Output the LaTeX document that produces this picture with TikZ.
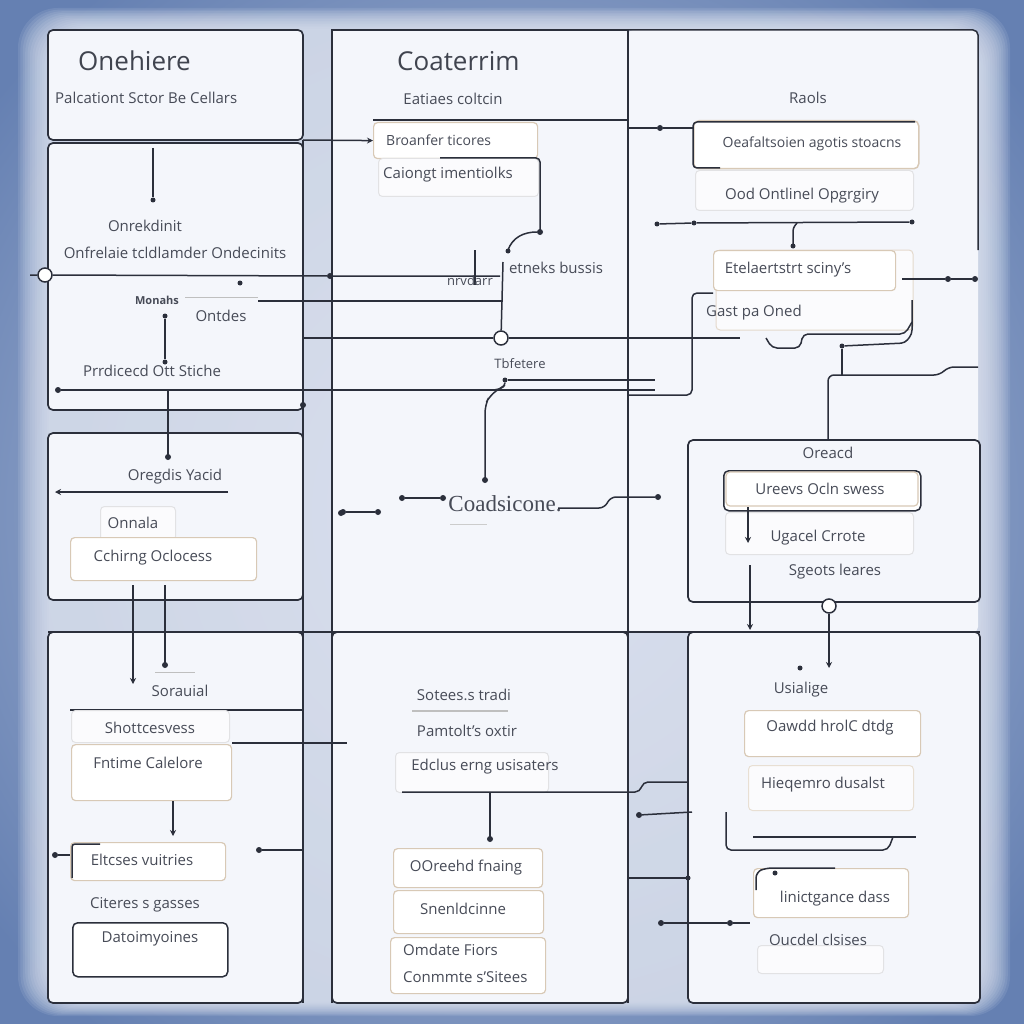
\documentclass[tikz,border=0pt]{standalone}
\usepackage{fontspec}
\setmainfont{Open Sans}
\newfontfamily\serifcc{Liberation Serif}
\usetikzlibrary{arrows.meta}
\definecolor{bgout}{HTML}{6580B2}
\definecolor{bgin}{HTML}{E4E9F4}
\definecolor{pfill}{HTML}{F4F6FB}
\definecolor{ln}{HTML}{2B2F3B}
\definecolor{tx}{HTML}{474B57}
\definecolor{bx}{HTML}{D8C9B6}
\definecolor{fbx}{HTML}{E2E2E4}
\tikzset{
  panel/.style={draw=ln, line width=1.7pt, fill=pfill, rounded corners=5pt},
  wire/.style={draw=ln, line width=1.5pt},
  thin/.style={draw=ln, line width=1.2pt},
  lbl/.style={font=\fontsize{15}{17}\selectfont, text=tx, inner sep=0pt},
  small/.style={font=\fontsize{13}{15}\selectfont, text=tx, inner sep=0pt},
  ttl/.style={font=\fontsize{26}{30}\selectfont, text=ln!90, inner sep=0pt},
  tbox/.style={draw=bx, line width=1.2pt, fill=white, rounded corners=4pt},
  fbox/.style={draw=fbx, line width=1pt, fill=white!60!pfill, rounded corners=4pt},
  dbox/.style={draw=ln, line width=1.5pt, fill=white, rounded corners=5pt},
  dotn/.style={circle, fill=ln, inner sep=0pt, minimum size=6pt},
  ocirc/.style={circle, draw=ln, fill=white, line width=1.5pt, minimum size=14pt, inner sep=0pt},
  arr/.style={-{Stealth[length=6pt,width=6pt]}},
  glow/.style={fill=bgin, opacity=0.11, rounded corners=40pt},
}
\begin{document}
\begin{tikzpicture}[x=1pt,y=-1pt]
\useasboundingbox (0,0) rectangle (1024,1024);
% background
\shade[inner color=bgin!75!bgout, outer color=bgout] (-150,-150) rectangle (1174,1174);
\foreach \i in {0,...,13} {
  \fill[glow] (18+2.4*\i,8+1.6*\i) rectangle (1010-2.2*\i,1016-1.1*\i);
}
% ---------- panels ----------
\fill[pfill] (332,30) rectangle (628,632);
\fill[pfill, rounded corners=5pt] (628,30) rectangle (978,632);
\draw[panel] (48,30) rectangle (303,140);
\draw[panel] (48,143) rectangle (303,410);
\draw[panel] (48,433) rectangle (303,600);
\draw[panel] (688,440) rectangle (980,602);
\draw[panel] (48,632) rectangle (303,1003);
\draw[panel] (332,632) rectangle (628,1003);
\draw[panel] (688,632) rectangle (980,1003);
% long lines
\draw[wire] (332,1003) -- (332,30) -- (628,30);
\draw[wire] (628,1003) -- (628,30);
\draw[wire, rounded corners=5pt] (628,30) -- (978,30) -- (978,250);
\draw[wire] (303,140) -- (303,1003);
\draw[wire] (48,632) -- (980,632);
% ---------- top-left ----------
\node[ttl, anchor=west] (t1) at (78,61) {Onehiere};
\node[lbl, anchor=west] (s1) at (55,98) {Palcationt Sctor Be Cellars};
\coordinate (a1) at (153,148);
\node[dotn, minimum size=5pt] (a1e) at (153,200) {};
\draw[thin] (a1) -- (a1e);
\node[lbl] (l1) at (145,226) {Onrekdinit};
\node[lbl] (l2) at (175,253) {Onfrelaie tcldlamder Ondecinits};
\node[ocirc] (oc1) at (45,275) {};
\coordinate (h1w) at (30,275);
\node[dotn] (h1d) at (330,276) {};
\draw[wire] (h1w) -- (oc1) -- (h1d) -- (500,276);
\node[dotn, minimum size=5pt] at (240,283) {};
\node[small, font=\fontsize{11}{13}\selectfont\bfseries] (m1) at (157,300) {Monahs};
\draw[line width=1pt, gray!50] (185,297) -- (258,297);
\draw[wire] (258,301) -- (503,301);
\node[lbl] (l3) at (221,316) {Ontdes};
\node[dotn, minimum size=5pt] (v1a) at (165,316) {};
\node[dotn, minimum size=5pt] (v1b) at (165,362) {};
\draw[wire] (v1a) -- (v1b);
\node[lbl] (l4) at (152,371) {Prrdicecd Ott Stiche};
\node[dotn] (h2d) at (58,390) {};
\draw[wire] (h2d) -- (655,390);
\node[dotn] at (303,405) {};
% ---------- top-middle ----------
\node[ttl, anchor=west] (t2) at (397,61) {Coaterrim};
\node[lbl] (s2) at (453,99) {Eatiaes coltcin};
\draw[wire] (373,120) -- (628,120);
\node[tbox, minimum width=164pt, minimum height=36pt, anchor=north west] (b1) at (373,122) {};
\node[lbl, font=\fontsize{14}{16}\selectfont, anchor=west] at (386,140) {Broanfer ticores};
\draw[wire, arr] (303,140) -- (b1.west);
\node[fbox, minimum width=160pt, minimum height=38pt, anchor=north west] (b2) at (378,158) {};
\node[lbl, anchor=west] at (383,175) {Caiongt imentiolks};
\draw[wire, rounded corners=4pt] (440,158) -- (540,158) -- (540,232);
\node[dotn] (c1) at (540,232) {};
\draw[wire] (c1) to[out=180,in=70] (508,250);
\node[dotn, minimum size=5pt] at (508,251) {};
\draw[wire] (475,250) -- (475,285);
\node[lbl, font=\fontsize{13}{15}\selectfont] (l5) at (470,281) {nrvdarr};
\node[lbl] (l6) at (556,268) {etneks bussis};
\node[ocirc] (oc2) at (501,338) {};
\draw[wire] (503,262) -- (oc2);
\draw[wire] (303,338) -- (oc2) -- (740,338);
\node[small] (l7) at (520,364) {Tbfetere};
\node[dotn, minimum size=5pt] (c2) at (505,380) {};
\draw[wire] (332,390) -- (490,390) to[out=0,in=-90] (c2);
\draw[wire] (c2) -- (655,380);
\draw[wire, rounded corners=8pt] (505,385) -- (490,395) -- (485,405) -- (485,478);
\node[dotn] at (485,480) {};
\node[dotn] (m1a) at (343,512) {};
\node[dotn] (m1b) at (378,512) {};
\draw[wire] (m1a) -- (m1b);
\node[dotn] (m2a) at (402,498) {};
\node[dotn] (m2b) at (443,498) {};
\draw[wire] (m2a) -- (m2b);
\node[font=\fontsize{23}{26}\selectfont\serifcc, text=tx, inner sep=0pt] (cc) at (505,504) {Coadsicone.};
\node[dotn] (m3) at (658,497) {};
\draw[wire, rounded corners=6pt] (558,508) -- (605,508) -- (610,497) -- (m3);
\draw[line width=1pt, gray!40] (450,524) -- (487,524);
% ---------- top-right ----------
\node[lbl] (s3) at (808,98) {Raols};
\node[dbox, draw=bx, minimum width=225pt, minimum height=48pt, anchor=north west] (b3) at (693,120) {};
\draw[wire, rounded corners=4pt] (915,122) -- (693,122) -- (693,168) -- (720,168);
\node[lbl, font=\fontsize{14}{16}\selectfont] at (812,144) {Oeafaltsoien agotis stoacns};
\node[dotn] (r1) at (660,128) {};
\draw[wire] (628,128) -- (r1) -- (b3.west |- r1);
\node[fbox, minimum width=218pt, minimum height=40pt, anchor=north west] (b4) at (695,170) {};
\node[lbl] at (802,196) {Ood Ontlinel Opgrgiry};
\node[dotn, minimum size=5pt] (r2a) at (657,224) {};
\node[dotn, minimum size=5pt] (r2b) at (694,223) {};
\node[dotn, minimum size=5pt] (r2c) at (912,222) {};
\draw[wire] (r2a) -- (r2b) -- (r2c);
\draw[wire, rounded corners=3pt] (797,223) -- (793,228) -- (793,245);
\node[dotn, minimum size=5pt] at (793,246) {};
\draw[fbox, draw=bx!70] (716,250) rectangle (913,330);
\node[tbox, minimum width=182pt, minimum height=40pt, anchor=north west] (b5) at (713,250) {};
\node[lbl] at (788,270) {Etelaertstrt sciny's};
\node[dotn] (r3a) at (948,279) {};
\node[dotn] (r3b) at (975,279) {};
\draw[wire] (902,279) -- (r3a) -- (r3b);
\draw[wire, rounded corners=5pt] (628,395) -- (692,395) -- (692,293) -- (713,293);
\node[lbl, anchor=west] (l8) at (706,313) {Gast pa Oned};
\draw[wire, rounded corners=5pt] (766,338) -- (772,348) -- (800,348) -- (803,334) -- (905,334) -- (912,322);
\node[dotn, minimum size=5pt] (r4) at (842,346) {};
\draw[wire, rounded corners=4pt] (912,300) -- (912,334) -- (905,343) -- (r4);
\draw[wire] (r4) -- (842,375);
\draw[wire, rounded corners=6pt] (828,440) -- (828,375) -- (940,375) -- (948,367) -- (978,367);
% ---------- left middle ----------
\draw[wire] (168,390) -- (168,455);
\node[dotn] at (168,457) {};
\node[lbl] (l9) at (175,477) {Oregdis Yacid};
\draw[wire, arr] (228,492) -- (55,492);
\node[fbox, minimum width=75pt, minimum height=34pt, anchor=north west] (b6) at (100,506) {};
\node[lbl] at (133,523) {Onnala};
\node[tbox, minimum width=186pt, minimum height=43pt, anchor=north west] (b7) at (70,537) {};
\node[lbl] at (153,558) {Cchirng Oclocess};
\draw[wire, arr] (133,585) -- (133,684);
\draw[wire] (165,585) -- (165,664);
\node[dotn] at (165,665) {};
\node[dotn] at (341,513) {};
% ---------- right middle ----------
\node[lbl] (l10) at (828,453) {Oreacd};
\node[fbox, minimum width=188pt, minimum height=42pt, anchor=north west] (b9) at (725,512) {};
\node[dbox, draw=ln, minimum width=197pt, minimum height=40pt, anchor=north west] (b8) at (723,470) {};
\draw[tbox, fill=none] (726,472) rectangle (918,506);
\node[lbl] at (820,489) {Ureevs Ocln swess};
\node[lbl] at (818,538) {Ugacel Crrote};
\draw[wire, arr] (748,507) -- (748,543);
\node[lbl] (l11) at (835,572) {Sgeots leares};
\draw[wire, arr] (750,565) -- (750,630);
\node[ocirc] (oc3) at (829,606) {};
\draw[wire, arr] (oc3) -- (829,668);
% ---------- bottom left ----------
\draw[line width=1pt, gray!50] (155,672) -- (195,672);
\node[lbl] (l12) at (180,691) {Sorauial};
\draw[wire] (70,710) -- (303,710);
\node[fbox, minimum width=158pt, minimum height=32pt, anchor=north west] (b10) at (71,710) {};
\node[lbl] at (150,728) {Shottcesvess};
\node[tbox, minimum width=160pt, minimum height=56pt, anchor=north west] (b11) at (71,744) {};
\node[lbl] at (148,763) {Fntime Calelore};
\draw[wire] (232,743) -- (347,743);
\draw[wire, arr] (173,801) -- (173,836);
\node[tbox, minimum width=155pt, minimum height=38pt, anchor=north west] (b12) at (70,842) {};
\draw[wire, rounded corners=3pt] (72,878) -- (72,844) -- (100,844);
\node[lbl] at (142,860) {Eltcses vuitries};
\node[dotn] (bl1) at (55,855) {};
\draw[wire] (bl1) -- (b12.west |- bl1);
\node[dotn] (bl2) at (259,850) {};
\draw[wire] (bl2) -- (303,850);
\node[lbl] (l13) at (145,905) {Citeres s gasses};
\node[dbox, minimum width=155pt, minimum height=54pt, anchor=north west] (b13) at (72,922) {};
\node[lbl] at (150,939) {Datoimyoines};
% ---------- bottom middle ----------
\node[lbl] (l14) at (464,695) {Sotees.s tradi};
\draw[line width=1.2pt, gray!50] (412,711) -- (508,711);
\node[lbl] (l15) at (467,731) {Pamtolt's oxtir};
\node[fbox, minimum width=153pt, minimum height=40pt, anchor=north west] (b14) at (395,752) {};
\node[lbl] at (485,767) {Edclus erng usisaters};
\draw[wire, rounded corners=5pt] (402,792) -- (640,792) -- (643,782) -- (688,782);
\draw[wire] (490,792) -- (490,838);
\node[dotn] at (490,839) {};
\node[tbox, minimum width=149pt, minimum height=39pt, anchor=north west] (b15) at (393,848) {};
\node[lbl] at (466,868) {OOreehd fnaing};
\node[tbox, minimum width=150pt, minimum height=43pt, anchor=north west] (b16) at (393,890) {};
\node[lbl] at (463,909) {Snenldcinne};
\node[tbox, minimum width=155pt, minimum height=56pt, anchor=north west] (b17) at (390,937) {};
\node[lbl, anchor=west] at (403,950) {Omdate Fiors};
\node[lbl, anchor=west] at (403,977) {Conmmte s'Sitees};
% ---------- bottom right ----------
\node[dotn] (br1) at (639,815) {};
\draw[wire] (br1) -- (692,812);
\draw[wire] (628,878) -- (688,878);
\node[dotn, minimum size=5pt] at (688,878) {};
\node[dotn] (br2) at (661,923) {};
\node[dotn] (br3) at (730,923) {};
\draw[wire] (br2) -- (br3) -- (750,923);
\node[dotn, minimum size=5pt] at (800,668) {};
\node[lbl] (l16) at (801,690) {Usialige};
\node[tbox, minimum width=176pt, minimum height=46pt, anchor=north west] (b18) at (744,710) {};
\node[lbl] at (830,728) {Oawdd hrolC dtdg};
\node[fbox, draw=bx!60, minimum width=165pt, minimum height=45pt, anchor=north west] (b19) at (748,765) {};
\node[lbl] at (823,785) {Hieqemro dusalst};
\draw[wire, rounded corners=5pt] (726,812) -- (726,850) -- (888,850) -- (893,837);
\draw[wire] (753,837) -- (916,837);
\node[tbox, minimum width=155pt, minimum height=49pt, anchor=north west] (b20) at (753,868) {};
\draw[wire, rounded corners=6pt] (756,890) -- (756,872) -- (766,868) -- (835,868);
\node[dotn, minimum size=5pt] at (775,873) {};
\node[lbl] at (835,899) {linictgance dass};
\node[fbox, minimum width=126pt, minimum height=28pt, anchor=north west] (b21) at (757,945) {};
\node[lbl] (l17) at (818,940) {Oucdel clsises};
\end{tikzpicture}
\end{document}
